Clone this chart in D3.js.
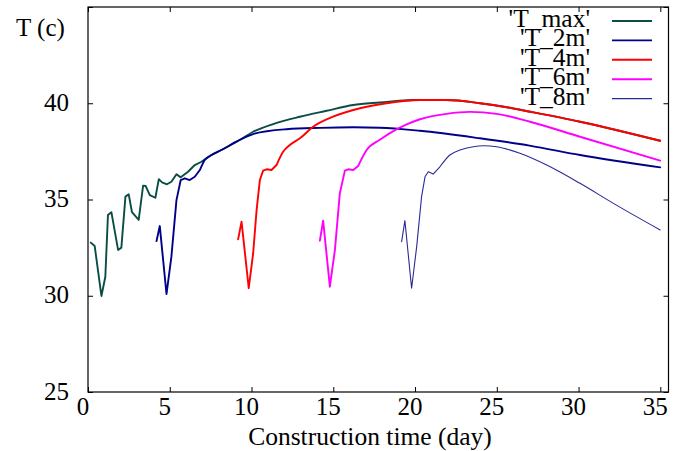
<!DOCTYPE html>
<html>
<head>
<meta charset="utf-8">
<script src="https://cdn.jsdelivr.net/npm/d3@7"></script>
<style>
  body { margin: 0; background: #fff; }
  svg { display: block; }
  text { font-family: "Liberation Serif", "Times New Roman", serif; fill: #000; }
</style>
</head>
<body>
<svg id="chart" width="682" height="451"></svg>
<script>
// Axis ticks and labels
const xTicks = [0, 5, 10, 15, 20, 25, 30, 35];
const yTicks = [25, 30, 35, 40, 45];
const yTickLabels = ["25", "30", "35", "40", ""];
const xTitle = "Construction time (day)";
const yTitle = "T (c)";

// Series names (legend order)
const seriesNames = ["'T_max'", "'T_2m'", "'T_4m'", "'T_6m'", "'T_8m'"];

// [day, temperature] readings for each series
const tMax = [
  [0.17, 32.76], [0.41, 32.58], [0.82, 29.99], [1.06, 30.99], [1.22, 34.19],
  [1.43, 34.34], [1.84, 32.38], [2.04, 32.50], [2.29, 35.15], [2.49, 35.27],
  [2.69, 34.34], [3.10, 33.94], [3.37, 35.72], [3.53, 35.70], [3.78, 35.23],
  [4.12, 35.09], [4.33, 36.06], [4.53, 35.89], [4.83, 35.79], [5.10, 35.92],
  [5.41, 36.31], [5.67, 36.15], [6.12, 36.44], [6.53, 36.79], [6.94, 36.96],
  [7.55, 37.31], [8.16, 37.57], [9.28, 38.09], [10.10, 38.52], [11.32, 38.92],
  [12.96, 39.30], [14.59, 39.61], [16.22, 39.91], [17.85, 40.04], [19.89, 40.17],
  [21.93, 40.17], [23.97, 40.00], [25.61, 39.79], [27.03, 39.56], [30.09, 39.04],
  [34.99, 38.05]
];
const t2m = [
  [4.19, 32.84], [4.39, 33.62], [4.80, 30.09], [5.10, 32.03], [5.41, 34.97],
  [5.67, 36.01], [5.92, 36.10], [6.22, 36.01], [6.53, 36.18], [6.84, 36.53],
  [7.14, 37.05], [7.55, 37.31], [8.16, 37.57], [9.10, 38.02], [10.10, 38.40],
  [12.14, 38.65], [14.20, 38.72], [16.22, 38.75], [17.85, 38.73], [20.30, 38.57],
  [23.97, 38.18], [27.00, 37.80], [30.09, 37.31], [34.99, 36.67]
];
const t4m = [
  [9.18, 32.93], [9.39, 33.85], [9.83, 30.39], [10.10, 32.21], [10.31, 34.45],
  [10.51, 36.01], [10.71, 36.50], [10.92, 36.57], [11.22, 36.53], [11.53, 36.79],
  [11.93, 37.48], [12.34, 37.83], [12.96, 38.18], [13.77, 38.78], [14.99, 39.30],
  [16.63, 39.74], [18.26, 40.00], [20.30, 40.17], [21.93, 40.17], [23.97, 40.00],
  [25.61, 39.79], [27.03, 39.56], [30.09, 39.04], [34.99, 38.05]
];
const t6m = [
  [14.18, 32.86], [14.38, 33.90], [14.79, 30.47], [15.10, 32.38], [15.40, 35.32],
  [15.71, 36.50], [15.91, 36.57], [16.22, 36.53], [16.52, 36.74], [17.04, 37.57],
  [17.85, 38.10], [18.67, 38.55], [19.49, 38.90], [20.30, 39.17], [21.93, 39.45],
  [23.36, 39.55], [24.99, 39.45], [27.03, 39.04], [30.09, 38.26], [34.99, 37.02]
];
const t8m = [
  [19.18, 32.81], [19.38, 33.90], [19.79, 30.39], [20.10, 32.55], [20.40, 35.15],
  [20.61, 36.18], [20.81, 36.44], [21.11, 36.32], [21.52, 36.70], [22.13, 37.31],
  [22.75, 37.57], [23.56, 37.74], [24.17, 37.79], [24.99, 37.74], [26.41, 37.40],
  [28.05, 36.79], [30.09, 35.84], [32.13, 34.80], [34.99, 33.42]
];

const seriesData = [tMax, t2m, t4m, t6m, t8m];
// Day after which each series is a smooth curve (before it: straight segments)
const smoothFrom = [6.94, 6.84, 11.53, 16.52, 21.52];
const seriesColors = ["#0a4d44", "#000088", "#ff0000", "#ff00ff", "#2a2a96"];
const seriesWidths = [1.9, 1.9, 1.9, 1.9, 1.1];

const svg = d3.select("#chart");
const plotLeft = 88, plotRight = 668.5, plotTop = 7, plotBottom = 392;

const x = d3.scaleLinear().domain([0, 35.5]).range([plotLeft, plotRight]);
const y = d3.scaleLinear().domain([25, 45]).range([plotBottom, plotTop]);

// Inward ticks on all four sides (mirrored)
const tickLen = 5;
svg.append("g").attr("transform", `translate(0,${plotBottom})`)
  .call(d3.axisTop(x).tickValues(xTicks).tickSize(tickLen).tickFormat(""))
  .call(g => g.select(".domain").remove());
svg.append("g").attr("transform", `translate(0,${plotTop})`)
  .call(d3.axisBottom(x).tickValues(xTicks).tickSize(tickLen).tickFormat(""))
  .call(g => g.select(".domain").remove());
svg.append("g").attr("transform", `translate(${plotLeft},0)`)
  .call(d3.axisRight(y).tickValues(yTicks).tickSize(tickLen).tickFormat(""))
  .call(g => g.select(".domain").remove());
svg.append("g").attr("transform", `translate(${plotRight},0)`)
  .call(d3.axisLeft(y).tickValues(yTicks).tickSize(tickLen).tickFormat(""))
  .call(g => g.select(".domain").remove());
svg.selectAll(".tick line").attr("stroke", "#000").attr("stroke-width", 1);

// Frame
svg.append("rect")
  .attr("x", plotLeft).attr("y", plotTop)
  .attr("width", plotRight - plotLeft).attr("height", plotBottom - plotTop)
  .attr("fill", "none").attr("stroke", "#000").attr("stroke-width", 1.2);

// Tick labels
svg.append("g").selectAll("text").data(xTicks).join("text")
  .attr("x", d => x(d) - 5).attr("y", 415)
  .attr("text-anchor", "middle").attr("font-size", 25)
  .text(d => String(d));
svg.append("g").selectAll("text").data(yTicks).join("text")
  .attr("x", 69).attr("y", d => y(d) + 7.5)
  .attr("text-anchor", "end").attr("font-size", 25)
  .text((d, i) => yTickLabels[i]);

// Axis titles
svg.append("text").attr("x", 370).attr("y", 445)
  .attr("text-anchor", "middle").attr("font-size", 25.5).text(xTitle);
svg.append("text").attr("x", 16).attr("y", 36)
  .attr("text-anchor", "start").attr("font-size", 25).text(yTitle);

// Curves: straight segments through the early swings, smooth afterwards
const sharp = d3.line().x(d => x(d[0])).y(d => y(d[1])).curve(d3.curveLinear);
const smooth = d3.line().x(d => x(d[0])).y(d => y(d[1])).curve(d3.curveMonotoneX);
const curves = svg.append("g")
  .attr("fill", "none")
  .attr("stroke-linejoin", "round")
  .attr("stroke-linecap", "round");
seriesData.forEach((pts, i) => {
  const early = pts.filter(p => p[0] <= smoothFrom[i]);
  const late = pts.filter(p => p[0] >= smoothFrom[i]);
  curves.append("path").attr("d", sharp(early) + smooth(late).replace(/^M/, "L"))
    .attr("stroke", seriesColors[i])
    .attr("stroke-width", seriesWidths[i]);
});

// Legend
const legend = svg.append("g");
seriesNames.forEach((name, i) => {
  const ly = 21 + i * 19.4;
  legend.append("text").attr("x", 590).attr("y", ly + 6)
    .attr("text-anchor", "end").attr("font-size", 25.5).text(name);
  legend.append("line")
    .attr("x1", 612).attr("x2", 652).attr("y1", ly).attr("y2", ly)
    .attr("stroke", seriesColors[i]).attr("stroke-width", seriesWidths[i]);
});
</script>
</body>
</html>
